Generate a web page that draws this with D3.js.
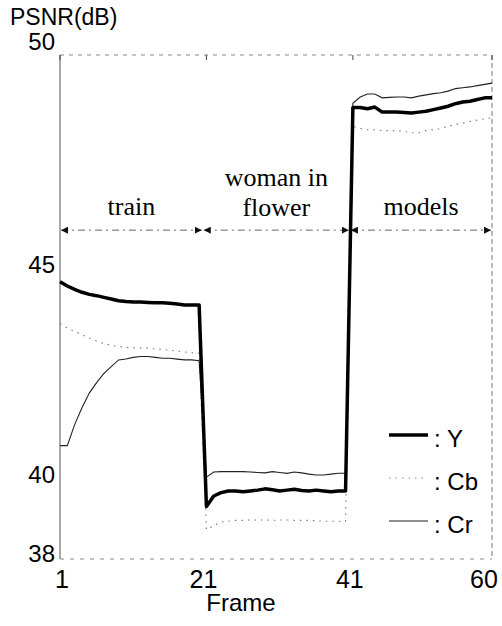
<!DOCTYPE html>
<html>
<head>
<meta charset="utf-8">
<script src="https://cdn.jsdelivr.net/npm/d3@7/dist/d3.min.js"></script>
<style>
  body { margin: 0; background: #fff; }
  text { font-family: "Liberation Sans", Arial, sans-serif; fill: #000; }
  .serif { font-family: "Liberation Serif", "Times New Roman", serif; }
</style>
</head>
<body>
<div id="chart"></div>
<script>
const W = 502, H = 626;
const margin = { left: 60, right: 10, top: 55, bottom: 67 };

// --- Data (frames 1..60: train 1-20, woman in flower 21-40, models 41-60) ---
const frames = d3.range(1, 61);
const yValues = [
  44.6, 44.5, 44.42, 44.35, 44.3, 44.27, 44.23, 44.19, 44.15, 44.13,
  44.12, 44.12, 44.11, 44.1, 44.1, 44.09, 44.07, 44.05, 44.05, 44.05,
  39.25, 39.5, 39.58, 39.62, 39.62, 39.6, 39.62, 39.64, 39.67, 39.65,
  39.62, 39.64, 39.66, 39.63, 39.62, 39.64, 39.62, 39.6, 39.62, 39.62,
  48.75, 48.75, 48.72, 48.76, 48.64, 48.64, 48.64, 48.63, 48.62, 48.64,
  48.66, 48.7, 48.74, 48.78, 48.84, 48.88, 48.9, 48.94, 48.98, 48.98
];
const cbValues = [
  43.6, 43.5, 43.42, 43.34, 43.26, 43.19, 43.13, 43.09, 43.06, 43.04,
  43.03, 43.02, 43.02, 43.0, 42.99, 42.97, 42.95, 42.93, 42.91, 42.9,
  38.7, 38.8, 38.88, 38.9, 38.92, 38.92, 38.93, 38.93, 38.93, 38.92,
  38.93, 38.93, 38.92, 38.92, 38.92, 38.91, 38.9, 38.9, 38.9, 38.9,
  48.3, 48.25, 48.22, 48.22, 48.2, 48.2, 48.2, 48.18, 48.15, 48.15,
  48.2, 48.22, 48.25, 48.3, 48.35, 48.38, 48.42, 48.45, 48.48, 48.5
];
const crValues = [
  40.7, 40.7, 41.2, 41.6, 41.95, 42.2, 42.42, 42.58, 42.74, 42.76,
  42.8, 42.82, 42.82, 42.8, 42.78, 42.78, 42.76, 42.74, 42.74, 42.72,
  39.95, 40.07, 40.08, 40.08, 40.08, 40.08, 40.07, 40.06, 40.05, 40.08,
  40.06, 40.04, 40.07, 40.05, 40.02, 40.0, 40.0, 40.02, 40.04, 40.04,
  48.85, 49.0, 49.07, 49.07, 48.98, 48.99, 49.0, 49.0, 48.98, 49.02,
  49.05, 49.08, 49.1, 49.14, 49.2, 49.22, 49.24, 49.27, 49.3, 49.33
];
const xTicks = [1, 21, 41, 60];
const yTicks = [38, 40, 45, 50];
const sequences = ["train", "woman in|flower", "models"];
const seqStart = [1, 20.5, 40.6];
const seqEnd = [20.5, 40.6, 60];
const seqLevel = 45.83;
const seriesNames = ["Y", "Cb", "Cr"];

const svg = d3.select("#chart").append("svg")
  .attr("width", W).attr("height", H);

const x = d3.scaleLinear().domain([1, 60]).range([margin.left, W - margin.right]);
const y = d3.scaleLinear().domain([38, 50]).range([H - margin.bottom, margin.top]);

// --- Frame box ---
const x0 = x.range()[0], x1 = x.range()[1], yb = y.range()[0], yt = y.range()[1];
svg.append("line").attr("x1", x0).attr("x2", x0).attr("y1", yt).attr("y2", yb)
  .attr("stroke", "#555").attr("stroke-width", 1);
svg.append("line").attr("x1", x0).attr("x2", x1).attr("y1", yt).attr("y2", yt)
  .attr("stroke", "#888").attr("stroke-dasharray", "4,5");
svg.append("line").attr("x1", x0).attr("x2", x1).attr("y1", yb).attr("y2", yb)
  .attr("stroke", "#888").attr("stroke-dasharray", "4,6");
svg.append("line").attr("x1", x1).attr("x2", x1).attr("y1", yt).attr("y2", yb)
  .attr("stroke", "#777").attr("stroke-dasharray", "5,3");

// small inward ticks
svg.selectAll(".xtick").data(xTicks).join("line")
  .attr("x1", d => x(d)).attr("x2", d => x(d))
  .attr("y1", yt).attr("y2", yt + 5)
  .attr("stroke", "#444");

// --- Axis labels ---
svg.selectAll(".xlab").data(xTicks).join("text")
  .attr("x", d => x(d) + (d === 1 ? 2 : d === 60 ? -8 : -3)).attr("y", yb + 29)
  .attr("text-anchor", "middle").attr("font-size", 25)
  .text(d => d);

svg.selectAll(".ylab").data(yTicks).join("text")
  .attr("x", x0 - 5)
  .attr("y", d => y(d) + (d === 50 ? -5 : d === 38 ? 3 : 8))
  .attr("text-anchor", "end").attr("font-size", 24)
  .text(d => d);

svg.append("text").attr("x", 10).attr("y", 25)
  .attr("font-size", 23).text("PSNR(dB)");
svg.append("text").attr("x", 241).attr("y", 611)
  .attr("text-anchor", "middle").attr("font-size", 24).text("Frame");

// --- Sequence ranges (double arrows) ---
const defs = svg.append("defs");
defs.append("marker").attr("id", "ah")
  .attr("viewBox", "0 0 10 10").attr("refX", 10).attr("refY", 5)
  .attr("markerWidth", 7).attr("markerHeight", 7).attr("orient", "auto-start-reverse")
  .attr("markerUnits", "userSpaceOnUse")
  .append("path").attr("d", "M0,0L10,5L0,10Z").attr("fill", "#111");

svg.selectAll(".seq").data(sequences).join("line")
  .attr("x1", (d, i) => x(seqStart[i]) + 1).attr("x2", (d, i) => x(seqEnd[i]) - 1)
  .attr("y1", y(seqLevel)).attr("y2", y(seqLevel))
  .attr("stroke", "#666").attr("stroke-width", 1)
  .attr("stroke-dasharray", "7,4,2,4")
  .attr("marker-start", "url(#ah)").attr("marker-end", "url(#ah)");

svg.selectAll(".seqlab").data(sequences).join("text")
  .attr("class", "serif")
  .attr("x", (d, i) => (x(seqStart[i]) + x(seqEnd[i])) / 2)
  .attr("y", d => d.includes("|") ? y(seqLevel) - 44 : y(seqLevel) - 15)
  .attr("text-anchor", "middle").attr("font-size", 26)
  .each(function (d) {
    const parts = d.split("|");
    d3.select(this).selectAll("tspan").data(parts).join("tspan")
      .attr("x", d3.select(this).attr("x"))
      .attr("dy", (p, j) => j === 0 ? 0 : 30)
      .text(p => p);
  });

// --- Series ---
const line = d3.line().x((d, i) => x(frames[i])).y(d => y(d));

svg.append("path").datum(cbValues).attr("d", line)
  .attr("fill", "none").attr("stroke", "#777").attr("stroke-width", 1.1)
  .attr("stroke-dasharray", "1.5,5");
svg.append("path").datum(crValues).attr("d", line)
  .attr("fill", "none").attr("stroke", "#222").attr("stroke-width", 1.1);
svg.append("path").datum(yValues).attr("d", line)
  .attr("fill", "none").attr("stroke", "#000").attr("stroke-width", 3.5)
  .attr("stroke-linejoin", "round");

// --- Legend ---
const legendY = seriesNames.map((n, i) => 435 + i * 43);
const lg = svg.append("g");
const styles = [
  { w: 3.5, c: "#000", dash: null },
  { w: 1, c: "#888", dash: "1.5,5" },
  { w: 1.1, c: "#222", dash: null }
];
seriesNames.forEach((name, i) => {
  lg.append("line").attr("x1", 389).attr("x2", 428)
    .attr("y1", legendY[i]).attr("y2", legendY[i])
    .attr("stroke", styles[i].c).attr("stroke-width", styles[i].w)
    .attr("stroke-dasharray", styles[i].dash);
  lg.append("text").attr("x", 434).attr("y", legendY[i] + 12)
    .attr("font-size", 24).text(": " + name);
});
</script>
</body>
</html>
